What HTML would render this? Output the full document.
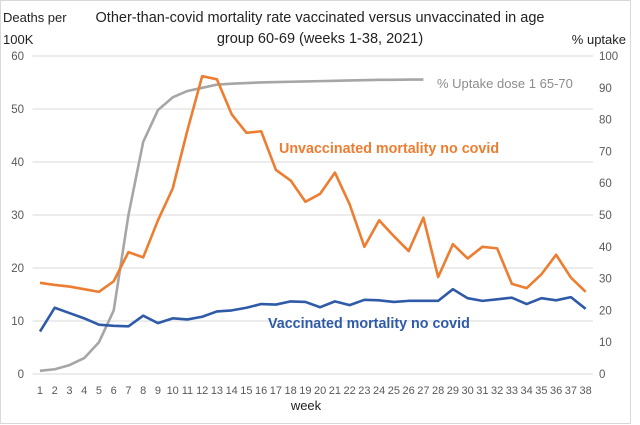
<!DOCTYPE html>
<html><head><meta charset="utf-8">
<style>
body{margin:0;background:#fff;}
svg{display:block;font-family:"Liberation Sans",Calibri,sans-serif;}
</style></head>
<body>
<svg id="chart" width="640" height="425" viewBox="0 0 640 425">
<rect x="0.5" y="0.5" width="630" height="423" fill="#fff" stroke="#d9d9d9"/>
<text x="320" y="22" text-anchor="middle" font-size="14.5" fill="#222">Other-than-covid mortality rate vaccinated versus unvaccinated in age</text>
<text x="320" y="43" text-anchor="middle" font-size="14.5" fill="#222">group 60-69  (weeks 1-38, 2021)</text>
<text x="3" y="22" font-size="13" fill="#222">Deaths per</text>
<text x="3" y="44" font-size="13" fill="#222">100K</text>
<text x="626" y="44" text-anchor="end" font-size="13" fill="#222">% uptake</text>
<g id="grid"></g><g id="ticks"></g><g id="series"></g>
<text x="437" y="88" font-size="13" fill="#8c8c8c">% Uptake dose 1 65-70</text>
<text x="279" y="153" font-size="14.3" font-weight="bold" fill="#ed7d31">Unvaccinated  mortality no covid</text>
<text x="268" y="328" font-size="14.3" font-weight="bold" fill="#2e5aa8">Vaccinated mortality no covid</text>
<text x="306" y="410" text-anchor="middle" font-size="13" fill="#222">week</text>
</svg>
<script>
const weeks=[1,2,3,4,5,6,7,8,9,10,11,12,13,14,15,16,17,18,19,20,21,22,23,24,25,26,27,28,29,30,31,32,33,34,35,36,37,38];
const unvaccinated=[17.2,16.8,16.5,16.0,15.5,17.5,23,22,29,35,46,56.2,55.6,49,45.5,45.8,38.5,36.5,32.5,34,38,32,24,29,26,23.2,29.5,18.3,24.5,21.8,24,23.7,17,16.2,18.8,22.5,18.2,15.5];
const vaccinated=[8,12.5,11.5,10.5,9.3,9.1,9,11,9.6,10.5,10.3,10.8,11.8,12,12.5,13.2,13.1,13.7,13.6,12.6,13.7,13,14,13.9,13.6,13.8,13.8,13.8,16,14.3,13.8,14.1,14.4,13.2,14.3,13.9,14.5,12.3];
const uptake=[1,1.5,2.8,5,10,20,50,73,83,87,89,90,91,91.3,91.5,91.7,91.8,91.9,92,92.1,92.2,92.3,92.4,92.5,92.5,92.6,92.6];
const leftTicks=[0,10,20,30,40,50,60];
const rightTicks=[0,10,20,30,40,50,60,70,80,90,100];
const NS='http://www.w3.org/2000/svg';
const x0=32.6,x1=593,yB=374,yT=56;
const step=(x1-x0)/weeks.length;
const xs=i=>x0+step*(i+0.5);
const yl=v=>yB-(v/60)*(yB-yT);
const yr=v=>yB-(v/100)*(yB-yT);
function mk(tag,attrs,parent){const e=document.createElementNS(NS,tag);for(const k in attrs)e.setAttribute(k,attrs[k]);parent.appendChild(e);return e;}
const grid=document.getElementById('grid'),ticks=document.getElementById('ticks'),series=document.getElementById('series');
leftTicks.forEach(v=>{
 const l=mk('line',{x1:x0,x2:x1,y1:yl(v),y2:yl(v),stroke:'#d9d9d9','stroke-width':1},grid);
 
 
 const t=mk('text',{x:24,y:yl(v)+4,'text-anchor':'end','font-size':11.5,fill:'#595959'},ticks);t.textContent=v;
 
 
});
rightTicks.forEach(v=>{
 const t=mk('text',{x:599,y:yr(v)+4,'font-size':11.5,fill:'#595959'},ticks);t.textContent=v;
 
 
});
weeks.forEach((w,i)=>{
 const t=mk('text',{x:xs(i),y:394,'text-anchor':'middle','font-size':11,fill:'#595959'},ticks);t.textContent=w;
 
 
});
function line(arr,yf,color,name){
 const p=mk('polyline',{points:arr.map((v,i)=>xs(i)+','+yf(v)).join(' '),fill:'none',stroke:color,'stroke-width':2.6,'stroke-linejoin':'round'},series);
 
 
}
line(uptake,yr,'#a6a6a6','uptake-line');
line(unvaccinated,yl,'#ed7d31','unvaccinated-line');
line(vaccinated,yl,'#2e5aa8','vaccinated-line');
</script>
</body></html>
